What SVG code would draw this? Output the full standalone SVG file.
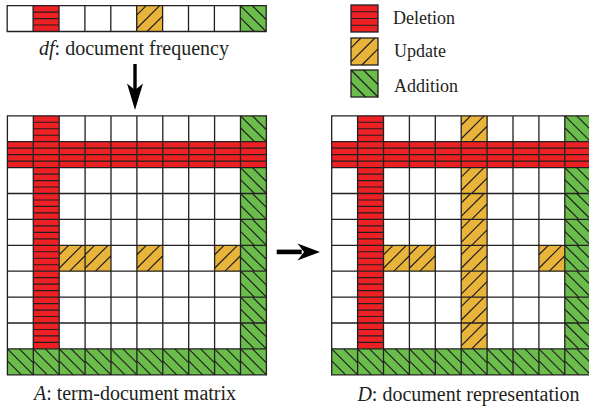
<svg xmlns="http://www.w3.org/2000/svg" xmlns:xlink="http://www.w3.org/1999/xlink" width="589" height="414" viewBox="0 0 589 414">
<style>
.lbl{font-family:"Liberation Serif","Times New Roman",serif;fill:#231f20}
.main{font-size:20px}
.leg{font-size:18px}
.grid{fill:none;stroke:#231f20;stroke-width:1.3}
.hl{stroke:#231f20;stroke-width:1.2;fill:none}
.arrow{fill:#000}
</style>
<defs>
<symbol id="del" viewBox="0 0 26 26" overflow="visible">
<rect width="26" height="26" fill="#ed2024"/>
<path class="hl" d="M0 6.5H26M0 13H26M0 19.5H26"/>
</symbol>
<symbol id="upd" viewBox="0 0 26 26" overflow="visible">
<rect width="26" height="26" fill="#e9b43a"/>
<path class="hl" d="M0 9.5L9.5 0M0 23L23 0M10.5 26L26 10.5"/>
</symbol>
<symbol id="add" viewBox="0 0 26 26" overflow="visible">
<rect width="26" height="26" fill="#6abd4b"/>
<path class="hl" d="M0 12L14 26M0 0L26 26M12 0L26 14"/>
</symbol>
<path id="grid10" class="grid" d="M0 0H259V259H0Z M25.9 0V259M51.8 0V259M77.7 0V259M103.6 0V259M129.5 0V259M155.4 0V259M181.3 0V259M207.2 0V259M233.1 0V259 M0 25.9H259M0 51.8H259M0 77.7H259M0 103.6H259M0 129.5H259M0 155.4H259M0 181.3H259M0 207.2H259M0 233.1H259"/>
</defs>

<!-- df row -->
<g id="df" transform="translate(7.2,5.6)">
<rect width="259" height="25.9" fill="#fff"/>
<use xlink:href="#del" x="25.9" y="0" width="25.9" height="25.9"/>
<use xlink:href="#upd" x="129.5" y="0" width="25.9" height="25.9"/>
<use xlink:href="#add" x="233.1" y="0" width="25.9" height="25.9"/>
<path class="grid" d="M0 0H259V25.9H0Z M25.9 0V25.9M51.8 0V25.9M77.7 0V25.9M103.6 0V25.9M129.5 0V25.9M155.4 0V25.9M181.3 0V25.9M207.2 0V25.9M233.1 0V25.9"/>
</g>
<text class="lbl main" x="134" y="55" text-anchor="middle"><tspan font-style="italic">df</tspan>: document frequency</text>

<!-- legend -->
<g id="legend-deletion">
<use xlink:href="#del" x="351" y="5" width="27" height="27"/>
<rect x="351" y="5" width="27" height="27" class="grid"/>
<text class="lbl leg" x="393" y="24">Deletion</text>
</g>
<g id="legend-update">
<use xlink:href="#upd" x="351" y="38" width="27" height="27"/>
<rect x="351" y="38" width="27" height="27" class="grid"/>
<text class="lbl leg" x="394" y="57">Update</text>
</g>
<g id="legend-addition">
<use xlink:href="#add" x="351" y="70" width="27" height="27"/>
<rect x="351" y="70" width="27" height="27" class="grid"/>
<text class="lbl leg" x="394" y="92">Addition</text>
</g>

<!-- matrix A -->
<g id="matrixA" transform="translate(7.4,115.8)">
<rect width="259" height="259" fill="#fff"/>
<g id="A-del">
<use xlink:href="#del" x="0" y="25.9" width="25.9" height="25.9"/>
<use xlink:href="#del" x="25.9" y="25.9" width="25.9" height="25.9"/>
<use xlink:href="#del" x="51.8" y="25.9" width="25.9" height="25.9"/>
<use xlink:href="#del" x="77.7" y="25.9" width="25.9" height="25.9"/>
<use xlink:href="#del" x="103.6" y="25.9" width="25.9" height="25.9"/>
<use xlink:href="#del" x="129.5" y="25.9" width="25.9" height="25.9"/>
<use xlink:href="#del" x="155.4" y="25.9" width="25.9" height="25.9"/>
<use xlink:href="#del" x="181.3" y="25.9" width="25.9" height="25.9"/>
<use xlink:href="#del" x="207.2" y="25.9" width="25.9" height="25.9"/>
<use xlink:href="#del" x="233.1" y="25.9" width="25.9" height="25.9"/>
<use xlink:href="#del" x="25.9" y="0" width="25.9" height="25.9"/>
<use xlink:href="#del" x="25.9" y="51.8" width="25.9" height="25.9"/>
<use xlink:href="#del" x="25.9" y="77.7" width="25.9" height="25.9"/>
<use xlink:href="#del" x="25.9" y="103.6" width="25.9" height="25.9"/>
<use xlink:href="#del" x="25.9" y="129.5" width="25.9" height="25.9"/>
<use xlink:href="#del" x="25.9" y="155.4" width="25.9" height="25.9"/>
<use xlink:href="#del" x="25.9" y="181.3" width="25.9" height="25.9"/>
<use xlink:href="#del" x="25.9" y="207.2" width="25.9" height="25.9"/>
</g>
<g id="A-add">
<use xlink:href="#add" x="233.1" y="0" width="25.9" height="25.9"/>
<use xlink:href="#add" x="233.1" y="51.8" width="25.9" height="25.9"/>
<use xlink:href="#add" x="233.1" y="77.7" width="25.9" height="25.9"/>
<use xlink:href="#add" x="233.1" y="103.6" width="25.9" height="25.9"/>
<use xlink:href="#add" x="233.1" y="129.5" width="25.9" height="25.9"/>
<use xlink:href="#add" x="233.1" y="155.4" width="25.9" height="25.9"/>
<use xlink:href="#add" x="233.1" y="181.3" width="25.9" height="25.9"/>
<use xlink:href="#add" x="233.1" y="207.2" width="25.9" height="25.9"/>
<use xlink:href="#add" x="0" y="233.1" width="25.9" height="25.9"/>
<use xlink:href="#add" x="25.9" y="233.1" width="25.9" height="25.9"/>
<use xlink:href="#add" x="51.8" y="233.1" width="25.9" height="25.9"/>
<use xlink:href="#add" x="77.7" y="233.1" width="25.9" height="25.9"/>
<use xlink:href="#add" x="103.6" y="233.1" width="25.9" height="25.9"/>
<use xlink:href="#add" x="129.5" y="233.1" width="25.9" height="25.9"/>
<use xlink:href="#add" x="155.4" y="233.1" width="25.9" height="25.9"/>
<use xlink:href="#add" x="181.3" y="233.1" width="25.9" height="25.9"/>
<use xlink:href="#add" x="207.2" y="233.1" width="25.9" height="25.9"/>
<use xlink:href="#add" x="233.1" y="233.1" width="25.9" height="25.9"/>
</g>
<g id="A-upd">
<use xlink:href="#upd" x="51.8" y="129.5" width="25.9" height="25.9"/>
<use xlink:href="#upd" x="77.7" y="129.5" width="25.9" height="25.9"/>
<use xlink:href="#upd" x="129.5" y="129.5" width="25.9" height="25.9"/>
<use xlink:href="#upd" x="207.2" y="129.5" width="25.9" height="25.9"/>
</g>
<use xlink:href="#grid10"/>
</g>
<text class="lbl main" x="135" y="400" text-anchor="middle"><tspan font-style="italic">A</tspan>: term-document matrix</text>

<!-- matrix D -->
<g id="matrixD" transform="translate(331.7,115.8)">
<rect width="259" height="259" fill="#fff"/>
<g id="D-del">
<use xlink:href="#del" x="0" y="25.9" width="25.9" height="25.9"/>
<use xlink:href="#del" x="25.9" y="25.9" width="25.9" height="25.9"/>
<use xlink:href="#del" x="51.8" y="25.9" width="25.9" height="25.9"/>
<use xlink:href="#del" x="77.7" y="25.9" width="25.9" height="25.9"/>
<use xlink:href="#del" x="103.6" y="25.9" width="25.9" height="25.9"/>
<use xlink:href="#del" x="129.5" y="25.9" width="25.9" height="25.9"/>
<use xlink:href="#del" x="155.4" y="25.9" width="25.9" height="25.9"/>
<use xlink:href="#del" x="181.3" y="25.9" width="25.9" height="25.9"/>
<use xlink:href="#del" x="207.2" y="25.9" width="25.9" height="25.9"/>
<use xlink:href="#del" x="233.1" y="25.9" width="25.9" height="25.9"/>
<use xlink:href="#del" x="25.9" y="0" width="25.9" height="25.9"/>
<use xlink:href="#del" x="25.9" y="51.8" width="25.9" height="25.9"/>
<use xlink:href="#del" x="25.9" y="77.7" width="25.9" height="25.9"/>
<use xlink:href="#del" x="25.9" y="103.6" width="25.9" height="25.9"/>
<use xlink:href="#del" x="25.9" y="129.5" width="25.9" height="25.9"/>
<use xlink:href="#del" x="25.9" y="155.4" width="25.9" height="25.9"/>
<use xlink:href="#del" x="25.9" y="181.3" width="25.9" height="25.9"/>
<use xlink:href="#del" x="25.9" y="207.2" width="25.9" height="25.9"/>
</g>
<g id="D-add">
<use xlink:href="#add" x="233.1" y="0" width="25.9" height="25.9"/>
<use xlink:href="#add" x="233.1" y="51.8" width="25.9" height="25.9"/>
<use xlink:href="#add" x="233.1" y="77.7" width="25.9" height="25.9"/>
<use xlink:href="#add" x="233.1" y="103.6" width="25.9" height="25.9"/>
<use xlink:href="#add" x="233.1" y="129.5" width="25.9" height="25.9"/>
<use xlink:href="#add" x="233.1" y="155.4" width="25.9" height="25.9"/>
<use xlink:href="#add" x="233.1" y="181.3" width="25.9" height="25.9"/>
<use xlink:href="#add" x="233.1" y="207.2" width="25.9" height="25.9"/>
<use xlink:href="#add" x="0" y="233.1" width="25.9" height="25.9"/>
<use xlink:href="#add" x="25.9" y="233.1" width="25.9" height="25.9"/>
<use xlink:href="#add" x="51.8" y="233.1" width="25.9" height="25.9"/>
<use xlink:href="#add" x="77.7" y="233.1" width="25.9" height="25.9"/>
<use xlink:href="#add" x="103.6" y="233.1" width="25.9" height="25.9"/>
<use xlink:href="#add" x="129.5" y="233.1" width="25.9" height="25.9"/>
<use xlink:href="#add" x="155.4" y="233.1" width="25.9" height="25.9"/>
<use xlink:href="#add" x="181.3" y="233.1" width="25.9" height="25.9"/>
<use xlink:href="#add" x="207.2" y="233.1" width="25.9" height="25.9"/>
<use xlink:href="#add" x="233.1" y="233.1" width="25.9" height="25.9"/>
</g>
<g id="D-upd">
<use xlink:href="#upd" x="129.5" y="0" width="25.9" height="25.9"/>
<use xlink:href="#upd" x="129.5" y="51.8" width="25.9" height="25.9"/>
<use xlink:href="#upd" x="129.5" y="77.7" width="25.9" height="25.9"/>
<use xlink:href="#upd" x="129.5" y="103.6" width="25.9" height="25.9"/>
<use xlink:href="#upd" x="129.5" y="129.5" width="25.9" height="25.9"/>
<use xlink:href="#upd" x="129.5" y="155.4" width="25.9" height="25.9"/>
<use xlink:href="#upd" x="129.5" y="181.3" width="25.9" height="25.9"/>
<use xlink:href="#upd" x="129.5" y="207.2" width="25.9" height="25.9"/>
<use xlink:href="#upd" x="51.8" y="129.5" width="25.9" height="25.9"/>
<use xlink:href="#upd" x="77.7" y="129.5" width="25.9" height="25.9"/>
<use xlink:href="#upd" x="207.2" y="129.5" width="25.9" height="25.9"/>
</g>
<use xlink:href="#grid10"/>
</g>
<text class="lbl main" x="468.5" y="401" text-anchor="middle"><tspan font-style="italic">D</tspan>: document representation</text>

<!-- connectors -->
<g id="connectors">
<g id="arrow-df-A">
<rect class="arrow" x="133.3" y="64" width="3.4" height="28"/>
<path class="arrow" d="M127 83.5L135 90L143 83.5L135 110Z"/>
</g>
<g id="arrow-A-D">
<rect class="arrow" x="276.7" y="249.6" width="25" height="4.6"/>
<path class="arrow" d="M297.5 243.5L304 251.9L297.5 260.5L320 251.9Z"/>
</g>
</g>
</svg>
